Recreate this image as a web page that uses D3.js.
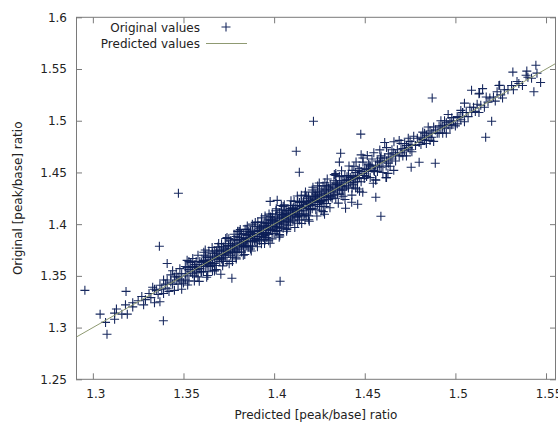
<!DOCTYPE html>
<html><head><meta charset="utf-8">
<script src="https://cdn.jsdelivr.net/npm/d3@7"></script>
<style>body{margin:0;background:#fff}svg{display:block}text{font-family:"DejaVu Sans",sans-serif;font-size:12px;fill:#222}</style>
</head><body><svg id="c" width="558" height="423"></svg>
<script>
const seriesNames = ["Original values", "Predicted values"];
const xTicks = [1.3, 1.35, 1.4, 1.45, 1.5, 1.55];
const xTickLabels = ["1.3", "1.35", "1.4", "1.45", "1.5", "1.55"];
const yTicks = [1.25, 1.3, 1.35, 1.4, 1.45, 1.5, 1.55, 1.6];
const yTickLabels = ["1.25", "1.3", "1.35", "1.4", "1.45", "1.5", "1.55", "1.6"];
const xDomain = [1.2907, 1.5555];
const yDomain = [1.25, 1.6];
// [predicted, original] pairs
const bandPoints = [
[1.304,1.313],[1.307,1.305],[1.312,1.314],[1.312,1.308],[1.313,1.318],[1.316,1.313],[1.319,1.313],[1.318,1.322],[1.322,1.320],[1.322,1.324],[1.325,1.326],[1.328,1.322],[1.327,1.330],[1.329,1.327],
[1.331,1.333],[1.332,1.329],[1.333,1.339],[1.334,1.324],[1.335,1.336],[1.336,1.332],[1.337,1.325],[1.337,1.341],[1.338,1.337],[1.339,1.346],[1.339,1.333],[1.340,1.342],[1.334,1.337],
[1.341,1.338],[1.341,1.346],[1.342,1.335],[1.343,1.344],[1.343,1.351],[1.344,1.342],[1.345,1.349],[1.345,1.336],[1.346,1.346],[1.346,1.352],[1.347,1.342],[1.347,1.349],[1.348,1.347],[1.348,1.357],[1.349,1.345],[1.349,1.352],[1.350,1.343],[1.344,1.355],[1.349,1.337],
[1.351,1.352],[1.351,1.346],[1.352,1.358],[1.352,1.350],[1.353,1.356],[1.353,1.345],[1.354,1.354],[1.354,1.363],[1.355,1.352],[1.355,1.359],[1.356,1.350],[1.356,1.358],[1.357,1.356],[1.357,1.364],[1.357,1.353],[1.358,1.359],[1.358,1.349],[1.359,1.364],[1.359,1.357],[1.360,1.363],[1.360,1.354],[1.353,1.364],[1.356,1.345],[1.358,1.370],[1.351,1.359],[1.352,1.365],
[1.361,1.361],[1.361,1.365],[1.361,1.354],[1.362,1.364],[1.362,1.359],[1.362,1.370],[1.363,1.362],[1.363,1.368],[1.363,1.354],[1.364,1.365],[1.364,1.360],[1.364,1.374],[1.365,1.363],[1.365,1.368],[1.365,1.359],[1.366,1.372],[1.366,1.366],[1.366,1.355],[1.367,1.369],[1.367,1.362],[1.367,1.374],[1.368,1.367],[1.368,1.372],[1.368,1.360],[1.369,1.370],[1.369,1.366],[1.369,1.378],[1.370,1.368],[1.370,1.375],[1.370,1.364],[1.362,1.375],[1.368,1.356],
[1.371,1.374],[1.371,1.367],[1.371,1.371],[1.372,1.378],[1.372,1.370],[1.372,1.364],[1.373,1.374],[1.373,1.381],[1.373,1.368],[1.374,1.376],[1.374,1.373],[1.374,1.364],[1.375,1.379],[1.375,1.372],[1.375,1.386],[1.376,1.376],[1.376,1.370],[1.376,1.381],[1.377,1.379],[1.377,1.374],[1.377,1.368],[1.378,1.385],[1.378,1.377],[1.378,1.381],[1.379,1.375],[1.379,1.380],[1.379,1.388],[1.380,1.378],[1.380,1.384],[1.380,1.373],[1.371,1.381],[1.374,1.387],[1.377,1.364],[1.379,1.368],[1.372,1.376],[1.376,1.384],[1.378,1.373],[1.373,1.371],[1.380,1.393],
[1.381,1.382],[1.381,1.376],[1.381,1.387],[1.382,1.380],[1.382,1.385],[1.382,1.373],[1.383,1.383],[1.383,1.391],[1.383,1.379],[1.384,1.386],[1.384,1.383],[1.384,1.395],[1.385,1.379],[1.385,1.389],[1.385,1.383],[1.386,1.387],[1.386,1.378],[1.386,1.393],[1.387,1.384],[1.387,1.390],[1.387,1.376],[1.388,1.388],[1.388,1.393],[1.388,1.383],[1.389,1.391],[1.389,1.388],[1.389,1.398],[1.390,1.386],[1.390,1.393],[1.390,1.383],[1.381,1.393],[1.383,1.370],[1.385,1.395],[1.387,1.393],[1.388,1.379],[1.384,1.378],[1.386,1.390],[1.382,1.390],[1.389,1.386],[1.385,1.386],[1.383,1.381],[1.388,1.400],
[1.391,1.393],[1.391,1.388],[1.391,1.398],[1.392,1.391],[1.392,1.396],[1.392,1.384],[1.393,1.394],[1.393,1.388],[1.393,1.402],[1.394,1.394],[1.394,1.392],[1.394,1.399],[1.395,1.389],[1.395,1.398],[1.395,1.385],[1.396,1.397],[1.396,1.404],[1.396,1.392],[1.397,1.399],[1.397,1.396],[1.397,1.390],[1.398,1.404],[1.398,1.395],[1.398,1.398],[1.399,1.403],[1.399,1.394],[1.399,1.410],[1.400,1.398],[1.400,1.403],[1.400,1.391],[1.391,1.402],[1.393,1.381],[1.395,1.408],[1.397,1.384],[1.398,1.407],[1.394,1.387],[1.396,1.401],[1.392,1.394],[1.399,1.398],[1.395,1.401],[1.393,1.390],[1.397,1.401],[1.391,1.385],[1.399,1.406],[1.396,1.387],
[1.401,1.402],[1.401,1.397],[1.401,1.407],[1.402,1.400],[1.402,1.405],[1.402,1.394],[1.403,1.403],[1.403,1.411],[1.403,1.398],[1.404,1.406],[1.404,1.403],[1.404,1.414],[1.405,1.402],[1.405,1.409],[1.405,1.396],[1.406,1.407],[1.406,1.400],[1.406,1.413],[1.407,1.405],[1.407,1.410],[1.407,1.396],[1.408,1.408],[1.408,1.413],[1.408,1.404],[1.409,1.411],[1.409,1.402],[1.409,1.418],[1.410,1.409],[1.410,1.414],[1.410,1.404],[1.401,1.413],[1.403,1.390],[1.405,1.417],[1.407,1.395],[1.409,1.415],[1.404,1.397],[1.406,1.410],[1.402,1.409],[1.408,1.399],[1.405,1.406],[1.403,1.401],[1.407,1.413],[1.409,1.406],[1.401,1.393],[1.404,1.418],
[1.411,1.414],[1.411,1.409],[1.411,1.403],[1.412,1.418],[1.412,1.412],[1.412,1.407],[1.413,1.414],[1.413,1.422],[1.413,1.410],[1.414,1.418],[1.414,1.413],[1.414,1.404],[1.415,1.417],[1.415,1.409],[1.415,1.422],[1.416,1.416],[1.416,1.413],[1.416,1.421],[1.417,1.410],[1.417,1.419],[1.417,1.428],[1.418,1.417],[1.418,1.422],[1.418,1.409],[1.419,1.420],[1.419,1.415],[1.419,1.427],[1.420,1.418],[1.420,1.423],[1.420,1.414],[1.411,1.422],[1.413,1.401],[1.415,1.428],[1.417,1.404],[1.419,1.425],[1.412,1.415],[1.414,1.421],[1.416,1.408],[1.418,1.427],[1.413,1.407],[1.419,1.408],[1.410,1.415],
[1.421,1.421],[1.421,1.426],[1.421,1.415],[1.422,1.424],[1.422,1.419],[1.422,1.431],[1.423,1.422],[1.423,1.427],[1.423,1.414],[1.424,1.425],[1.424,1.419],[1.424,1.431],[1.425,1.423],[1.425,1.428],[1.425,1.417],[1.426,1.432],[1.426,1.426],[1.426,1.422],[1.427,1.429],[1.427,1.420],[1.427,1.437],[1.428,1.427],[1.428,1.432],[1.428,1.417],[1.429,1.430],[1.429,1.426],[1.429,1.437],[1.430,1.428],[1.430,1.435],[1.430,1.424],[1.421,1.433],[1.424,1.437],[1.426,1.413],[1.428,1.440],[1.423,1.429],[1.427,1.423],[1.429,1.420],[1.425,1.434],
[1.431,1.433],[1.431,1.427],[1.431,1.438],[1.432,1.432],[1.432,1.425],[1.432,1.436],[1.433,1.431],[1.433,1.442],[1.433,1.428],[1.434,1.435],[1.434,1.425],[1.434,1.440],[1.435,1.434],[1.435,1.438],[1.435,1.429],[1.436,1.438],[1.436,1.433],[1.436,1.446],[1.437,1.437],[1.437,1.429],[1.437,1.442],[1.438,1.436],[1.438,1.442],[1.438,1.427],[1.439,1.440],[1.439,1.434],[1.439,1.447],[1.440,1.437],[1.440,1.443],[1.434,1.447],[1.434,1.449],
[1.441,1.442],[1.441,1.435],[1.441,1.447],[1.442,1.440],[1.442,1.445],[1.443,1.435],[1.443,1.443],[1.443,1.452],[1.444,1.440],[1.444,1.446],[1.445,1.444],[1.445,1.450],[1.445,1.435],[1.446,1.447],[1.446,1.441],[1.447,1.454],[1.447,1.445],[1.448,1.451],[1.448,1.441],[1.449,1.449],[1.449,1.460],[1.450,1.447],[1.450,1.454],[1.444,1.456],[1.446,1.434],[1.448,1.467],[1.449,1.464],
[1.451,1.453],[1.451,1.446],[1.452,1.458],[1.452,1.451],[1.453,1.456],[1.453,1.445],[1.454,1.454],[1.454,1.463],[1.455,1.452],[1.455,1.469],[1.456,1.457],[1.456,1.443],[1.457,1.461],[1.457,1.451],[1.458,1.460],[1.458,1.456],[1.459,1.466],[1.459,1.455],[1.460,1.461],[1.460,1.450],
[1.461,1.464],[1.461,1.479],[1.462,1.474],[1.462,1.461],[1.462,1.445],[1.463,1.468],[1.463,1.459],[1.464,1.465],[1.464,1.456],[1.465,1.472],[1.465,1.463],[1.466,1.452],[1.466,1.469],[1.467,1.467],[1.467,1.461],[1.468,1.472],[1.469,1.481],[1.470,1.478],[1.469,1.466],[1.470,1.469],
[1.471,1.473],[1.471,1.466],[1.472,1.478],[1.472,1.471],[1.473,1.476],[1.473,1.466],[1.474,1.483],[1.474,1.474],[1.475,1.472],[1.475,1.480],[1.476,1.477],[1.476,1.470],[1.477,1.485],[1.478,1.476],[1.479,1.483],[1.480,1.479],
[1.481,1.484],[1.481,1.477],[1.482,1.489],[1.482,1.482],[1.483,1.481],[1.483,1.488],[1.484,1.478],[1.484,1.486],[1.485,1.494],[1.485,1.484],[1.486,1.490],[1.486,1.481],[1.487,1.488],[1.487,1.484],[1.488,1.494],[1.488,1.480],[1.489,1.491],[1.490,1.488],
[1.491,1.495],[1.491,1.488],[1.492,1.493],[1.492,1.500],[1.493,1.488],[1.493,1.495],[1.494,1.493],[1.494,1.500],[1.495,1.488],[1.495,1.498],[1.496,1.496],[1.496,1.506],[1.497,1.493],[1.497,1.499],[1.498,1.503],[1.498,1.496],[1.499,1.500],[1.500,1.495],
[1.501,1.504],[1.501,1.497],[1.502,1.503],[1.503,1.510],[1.503,1.501],[1.504,1.508],[1.505,1.499],[1.505,1.517],[1.504,1.508],[1.506,1.508],[1.507,1.504],[1.508,1.513],[1.509,1.508],[1.510,1.513],
[1.511,1.509],[1.512,1.516],[1.513,1.526],[1.513,1.508],[1.514,1.515],[1.515,1.531],[1.516,1.513],[1.517,1.523],[1.518,1.518],[1.519,1.522],
[1.521,1.523],[1.522,1.519],[1.523,1.528],[1.524,1.534],[1.525,1.525],[1.526,1.522],[1.527,1.530],[1.529,1.530],
[1.531,1.534],[1.532,1.530],[1.534,1.538],[1.535,1.536],[1.537,1.534],[1.539,1.544],[1.540,1.542],[1.542,1.541],[1.545,1.546]
];
// wider-spread points
const bandEdgePoints = [
[1.3523,1.3412],[1.3551,1.3668],[1.3587,1.3447],[1.3612,1.3729],[1.3634,1.3503],[1.3658,1.3774],[1.3671,1.3548],[1.3694,1.3812],[1.3716,1.3597],[1.3733,1.3861],[1.3752,1.3618],[1.3779,1.3902],[1.3791,1.3664],[1.3813,1.3948],[1.3838,1.3707],[1.3852,1.3983],[1.3874,1.3741],[1.3896,1.4017],[1.3908,1.3782],[1.3931,1.4061],[1.3947,1.3813],[1.3972,1.4097],[1.3989,1.3858],[1.4012,1.4149],[1.4031,1.3887],[1.4056,1.4188],[1.4069,1.3931],[1.4093,1.4226],[1.4114,1.3968],[1.4128,1.4272],[1.4152,1.4007],[1.4173,1.4311],[1.4191,1.4043],[1.4214,1.4357],[1.4236,1.4079],[1.4249,1.4398],[1.4271,1.4121],[1.4293,1.4437],[1.4308,1.4158],[1.4332,1.4479],[1.4354,1.4203],[1.4372,1.4516],[1.4391,1.4238],[1.4413,1.4562],[1.4429,1.4281],[1.4452,1.4601],[1.4471,1.4318],[1.4514,1.4663],[1.4547,1.4396],[1.4583,1.4718],[1.4628,1.4491],[1.4661,1.4797],
[1.3563,1.3609],[1.3597,1.3541],[1.3621,1.3682],[1.3659,1.3612],[1.3683,1.3741],[1.3712,1.3661],[1.3748,1.3793],[1.3772,1.3729],[1.3809,1.3852],[1.3832,1.3781],[1.3868,1.3921],[1.3891,1.3843],[1.3927,1.3971],[1.3953,1.3908],[1.3988,1.4041],[1.4013,1.3962],[1.4047,1.4092],[1.4071,1.4028],[1.4106,1.4159],[1.4137,1.4081],[1.4162,1.4218],[1.4198,1.4143],[1.4227,1.4271],[1.4252,1.4209],[1.4287,1.4338],[1.4313,1.4262],[1.4343,1.4391],[1.4378,1.4329],[1.4402,1.4458],[1.4437,1.4381],[1.4463,1.4518],[1.4497,1.4442],[1.4528,1.4571],[1.4553,1.4508],[1.4587,1.4639],[1.4618,1.4562]
];
const outlierPoints = [
[1.2956,1.336],[1.3078,1.2935],[1.3389,1.3066],[1.3472,1.4299],[1.3367,1.3786],[1.3183,1.335],[1.341,1.362],[1.3628,1.3486],[1.3706,1.3515],[1.3767,1.3477],[1.4033,1.3448],[1.38,1.3931],
[1.4217,1.4995],[1.4122,1.4705],[1.4139,1.4502],[1.3978,1.422],[1.4017,1.423],[1.3978,1.3815],[1.4028,1.3873],[1.4194,1.4028],[1.4278,1.4096],[1.4367,1.4686],[1.436,1.46],[1.4394,1.4154],
[1.4478,1.487],[1.4872,1.522],[1.4589,1.4076],[1.4561,1.426],[1.4461,1.4192],[1.4428,1.4212],[1.4489,1.4309],[1.4889,1.4589],[1.48,1.4599],[1.4756,1.455],[1.4617,1.445],[1.4561,1.4425],
[1.5167,1.484],[1.52,1.4995],[1.5089,1.5295],[1.5133,1.5266],[1.5244,1.5343],[1.5433,1.528],[1.547,1.537],[1.5444,1.5537],[1.5317,1.547],[1.5394,1.548]
];

const plotL = 76, plotR = 556, plotT = 17.3, plotB = 379.3;
const svg = d3.select("#c");
const x = d3.scaleLinear().domain(xDomain).range([plotL, plotR]);
const y = d3.scaleLinear().domain(yDomain).range([plotB, plotT]);
const axisColor = "#7a7a7a";
const markColor = "#0c1e56";
const lineColor = "#8f9a72";

const allPoints = bandPoints.concat(bandEdgePoints, outlierPoints);
svg.append("clipPath").attr("id","pc").append("rect")
  .attr("x", plotL).attr("y", plotT).attr("width", plotR-plotL).attr("height", plotB-plotT);

const pts = svg.append("g").attr("clip-path","url(#pc)");
const s = 4.5;
pts.selectAll("path").data(allPoints).join("path")
  .attr("d", d => {
    const px = x(d[0]), py = y(d[1]);
    return `M${px-s},${py}H${px+s}M${px},${py-s}V${py+s}`;
  })
  .attr("stroke", markColor).attr("stroke-width", 1.1).attr("fill", "none").attr("stroke-opacity", 0.95);

svg.append("line").attr("clip-path","url(#pc)")
  .attr("x1", x(xDomain[0])).attr("y1", y(xDomain[0]))
  .attr("x2", x(xDomain[1])).attr("y2", y(xDomain[1]))
  .attr("stroke", lineColor).attr("stroke-width", 1);

function styleAxis(g){
  g.select(".domain").remove();
  g.selectAll("line").attr("stroke", axisColor);
  g.selectAll("text").style("font-family","DejaVu Sans, sans-serif").style("font-size","12px").attr("fill","#222");
}
svg.append("g").attr("transform", `translate(0,${plotB})`)
  .call(d3.axisBottom(x).tickValues(xTicks).tickSizeInner(-6).tickSizeOuter(0).tickPadding(10)
    .tickFormat((d,i) => xTickLabels[i]))
  .call(styleAxis)
  .call(g => g.selectAll("text").attr("x", 2.5));
svg.append("g").attr("transform", `translate(0,${plotT})`)
  .call(d3.axisTop(x).tickValues(xTicks).tickSizeInner(-6).tickSizeOuter(0).tickFormat(""))
  .call(styleAxis);
svg.append("g").attr("transform", `translate(${plotL},0)`)
  .call(d3.axisLeft(y).tickValues(yTicks).tickSizeInner(-6).tickSizeOuter(0).tickPadding(9)
    .tickFormat((d,i) => yTickLabels[i]))
  .call(styleAxis);
svg.append("g").attr("transform", `translate(${plotR},0)`)
  .call(d3.axisRight(y).tickValues(yTicks).tickSizeInner(-6).tickSizeOuter(0).tickFormat(""))
  .call(styleAxis);

svg.append("rect").attr("x", plotL+0.5).attr("y", plotT).attr("width", plotR-plotL-1).attr("height", plotB-plotT)
  .attr("fill","none").attr("stroke", axisColor).attr("stroke-width", 1);

svg.append("text").attr("x", (plotL+plotR)/2).attr("y", 419).attr("text-anchor","middle")
  .text("Predicted [peak/base] ratio");
svg.append("text").attr("transform", `translate(22,${(plotT+plotB)/2}) rotate(-90)`).attr("text-anchor","middle")
  .text("Original [peak/base] ratio");

const lg = svg.append("g");
lg.append("text").attr("x", 200).attr("y", 31.5).attr("text-anchor","end").text(seriesNames[0]);
lg.append("text").attr("x", 200).attr("y", 47.5).attr("text-anchor","end").text(seriesNames[1]);
lg.append("path").attr("d", `M${226-s},27H${226+s}M226,${27-s}V${27+s}`)
  .attr("stroke", markColor).attr("stroke-width", 1.1).attr("stroke-opacity", 0.95);
lg.append("line").attr("x1", 206).attr("x2", 247).attr("y1", 43.5).attr("y2", 43.5)
  .attr("stroke", lineColor).attr("stroke-width", 1);
</script></body></html>
